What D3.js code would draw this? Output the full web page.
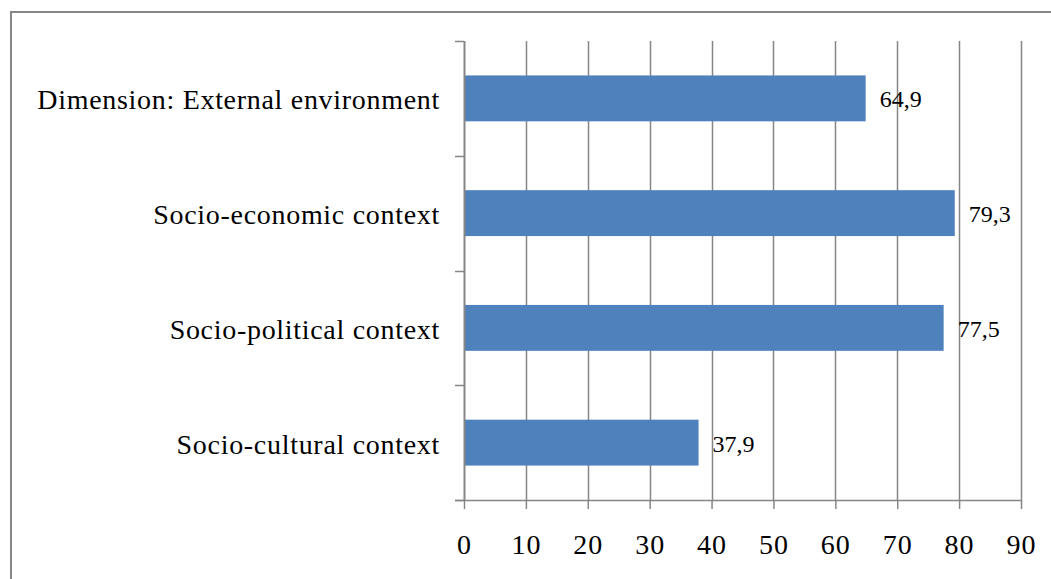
<!DOCTYPE html>
<html>
<head>
<meta charset="utf-8">
<script src="https://cdn.jsdelivr.net/npm/d3@7"></script>
<style>
  html, body { margin: 0; padding: 0; background: #fff; }
  svg { display: block; }
  text { font-family: "Liberation Serif", "Times New Roman", serif; fill: #000; }
</style>
</head>
<body>
<svg id="chart" width="1051" height="579"></svg>
<script>
// Scores by dimension
const categories = [
  "Dimension: External environment",
  "Socio-economic context",
  "Socio-political context",
  "Socio-cultural context"
];
const values = [64.9, 79.3, 77.5, 37.9];
const valueLabels = ["64,9", "79,3", "77,5", "37,9"];
const xTicks = [0, 10, 20, 30, 40, 50, 60, 70, 80, 90];

const svg = d3.select("#chart");
const gridColor = "#868686";

// chart frame (left and top edges)
svg.append("path")
  .attr("d", "M11,579 V12 H1051")
  .attr("fill", "none")
  .attr("stroke", gridColor)
  .attr("stroke-width", 2);

const plotLeft = 464, plotRight = 1021, plotTop = 41, plotBottom = 500;

const x = d3.scaleLinear().domain([0, 90]).range([plotLeft, plotRight]);
const y = d3.scaleBand().domain(categories).range([plotTop, plotBottom]).paddingInner(0.6).paddingOuter(0.3);

// vertical gridlines
svg.append("g").selectAll("line")
  .data(xTicks.slice(1))
  .join("line")
  .attr("x1", d => Math.round(x(d)) + 0.5)
  .attr("x2", d => Math.round(x(d)) + 0.5)
  .attr("y1", plotTop)
  .attr("y2", plotBottom)
  .attr("stroke", gridColor)
  .attr("stroke-width", 1.5);

// bars
svg.append("g").selectAll("rect")
  .data(values)
  .join("rect")
  .attr("x", x(0))
  .attr("y", (d, i) => y(categories[i]))
  .attr("width", d => x(d) - x(0))
  .attr("height", y.bandwidth())
  .attr("fill", "#4F81BD");

// value labels
svg.append("g").selectAll("text")
  .data(values)
  .join("text")
  .attr("x", d => x(d) + 14)
  .attr("y", (d, i) => y(categories[i]) + y.bandwidth() / 2 + 9)
  .attr("font-size", 24)
  .text((d, i) => valueLabels[i]);

// x axis
const xAxis = svg.append("g")
  .attr("transform", `translate(0,${plotBottom})`)
  .call(d3.axisBottom(x).tickValues(xTicks).tickSize(9).tickPadding(25).tickFormat(d3.format("d")));
xAxis.select(".domain").remove();
xAxis.selectAll(".tick line").attr("stroke", gridColor).attr("stroke-width", 1.5);
xAxis.selectAll(".tick text")
  .attr("font-size", 28)
  .attr("letter-spacing", 1)
  .attr("font-family", "Liberation Serif, serif")
  .attr("fill", "#000");
xAxis.append("line")
  .attr("x1", plotLeft - 9).attr("x2", plotRight)
  .attr("y1", 0.5).attr("y2", 0.5)
  .attr("stroke", gridColor).attr("stroke-width", 1.5);

// y axis with category boundary ticks
const yAxisG = svg.append("g");
yAxisG.append("line")
  .attr("x1", plotLeft + 0.5).attr("x2", plotLeft + 0.5)
  .attr("y1", plotTop).attr("y2", plotBottom)
  .attr("stroke", gridColor).attr("stroke-width", 2);
const bounds = categories.map(c => y(c) - y.step() * y.paddingInner() / 2).concat([plotBottom]);
yAxisG.selectAll("line.b")
  .data(bounds)
  .join("line")
  .attr("class", "b")
  .attr("x1", plotLeft - 9).attr("x2", plotLeft)
  .attr("y1", d => Math.round(d) + 0.5).attr("y2", d => Math.round(d) + 0.5)
  .attr("stroke", gridColor).attr("stroke-width", 1.5);

// category labels
yAxisG.selectAll("text")
  .data(categories)
  .join("text")
  .attr("x", 440)
  .attr("y", d => y(d) + y.bandwidth() / 2 + 11)
  .attr("text-anchor", "end")
  .attr("font-size", 28)
  .attr("letter-spacing", 0.7)
  .text(d => d);
</script>
</body>
</html>
